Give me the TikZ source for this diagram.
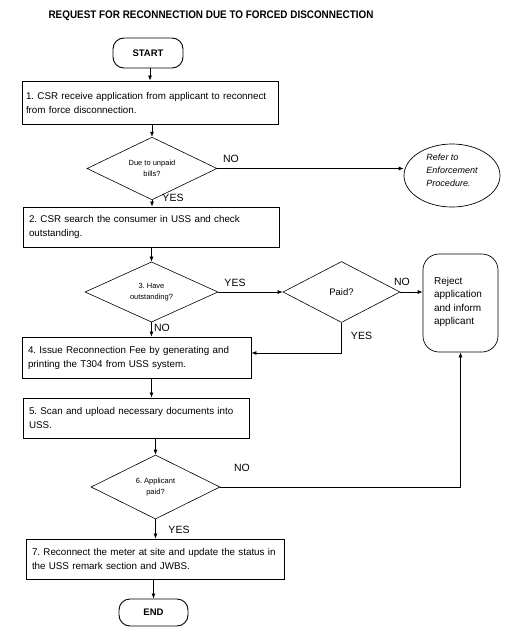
\documentclass[tikz,border=0pt]{standalone}
\usepackage{fontspec}
\setmainfont{Liberation Sans}
\usetikzlibrary{shapes.geometric,arrows.meta}
\begin{document}
\frenchspacing
\begin{tikzpicture}[x=1pt,y=-1pt,
 box/.style={draw,line width=0.9pt,rectangle,align=left,inner xsep=6pt,inner ysep=0pt,font=\fontsize{9.8}{14}\selectfont},
 term/.style={draw,line width=0.9pt,rounded corners=11pt,inner sep=0pt,font=\bfseries\fontsize{9.5}{11}\selectfont},
 dec/.style={draw,line width=0.6pt,diamond,inner sep=0pt,align=center,font=\fontsize{7.5}{10.5}\selectfont},
 lab/.style={font=\fontsize{10.5}{12}\selectfont},
 arr/.style={-{Latex[length=5pt,width=4pt]},line width=0.7pt}]
\useasboundingbox (0,0) rectangle (508,640);
\node[font=\bfseries\fontsize{11}{13}\selectfont] (title) at (211,16) {\scalebox{0.9}[1]{REQUEST FOR RECONNECTION DUE TO FORCED DISCONNECTION}};
\node[term,minimum width=70pt,minimum height=30pt] (start) at (148,53) {START};
\node[box,text width=248pt,minimum height=43pt,inner xsep=4pt] (b1) at (150,102.5) {1. CSR receive application from applicant to reconnect\\from force disconnection.};
\node[dec,minimum width=130pt,minimum height=55pt] (d1) at (152,168.5) {Due to unpaid\\bills?};
\node[draw,line width=0.7pt,ellipse,minimum width=96pt,minimum height=63pt,inner sep=0pt] (ell) at (452,175.5) {};
\node[align=left,font=\itshape\fontsize{9}{13}\selectfont] (elltext) at (452,170) {Refer to\\Enforcement\\Procedure.};
\node[box,text width=244pt,minimum height=40pt] (b2) at (151,227) {2. CSR search the consumer in USS and check\\outstanding.};
\node[dec,minimum width=133pt,minimum height=56pt] (d3) at (151.5,292) {3. Have\\outstanding?};
\node[dec,font=\fontsize{9.5}{11}\selectfont,minimum width=117pt,minimum height=61pt] (paid) at (341.5,292) {Paid?};
\node[draw,line width=0.7pt,rounded corners=16pt,minimum width=75pt,minimum height=98pt,inner sep=0pt] (rej) at (460.5,303) {};
\node[align=left,font=\fontsize{10}{13.5}\selectfont] (rejtext) at (458,302) {Reject\\application\\and inform\\applicant};
\node[box,text width=217pt,minimum height=41pt] (b4) at (136.5,357.5) {4. Issue Reconnection Fee by generating and\\printing the T304 from USS system.};
\node[box,text width=214pt,minimum height=40pt] (b5) at (136,418) {5. Scan and upload necessary documents into\\USS.};
\node[dec,minimum width=129pt,minimum height=64pt] (d6) at (155.5,487) {6. Applicant\\paid?};
\node[box,text width=246pt,minimum height=40pt] (b7) at (155,559) {7. Reconnect the meter at site and update the status in\\the USS remark section and JWBS.};
\node[term,minimum width=69pt,minimum height=27pt] (end) at (153.5,612.5) {END};
\coordinate (c1) at (341.5,353);
% connectors
\draw[arr] (b1.north |- start.south) -- (b1.north);
\draw[arr] (d1.north |- b1.south) -- (d1.north);
\draw[arr] (d1.east) -- (d1.east -| ell.west);
\draw[arr] (d1.south) -- (d1.south |- b2.north);
\draw[arr] (d3.north |- b2.south) -- (d3.north);
\draw[arr] (d3.east) -- (paid.west);
\draw[arr] (paid.east) -- (paid.east -| rej.west);
\draw[arr] (paid.south) -- (c1) -- (c1 -| b4.east);
\draw[arr] (d3.south) -- (d3.south |- b4.north);
\draw[arr] (d3.south |- b4.south) -- (d3.south |- b5.north);
\draw[arr] (d6.north |- b5.south) -- (d6.north);
\draw[arr] (d6.east) -| (rej.south);
\draw[arr] (d6.south) -- (d6.south |- b7.north);
\draw[arr] (end.north |- b7.south) -- (end.north);
% labels
\node[lab] (l1) at (231,159) {NO};
\node[lab] (l2) at (173,198) {YES};
\node[lab] (l3) at (235,283) {YES};
\node[lab] (l4) at (402,282) {NO};
\node[lab] (l5) at (361.5,336) {YES};
\node[lab] (l6) at (162,328) {NO};
\node[lab] (l7) at (242,468) {NO};
\node[lab] (l8) at (179,530) {YES};
\end{tikzpicture}
\end{document}
